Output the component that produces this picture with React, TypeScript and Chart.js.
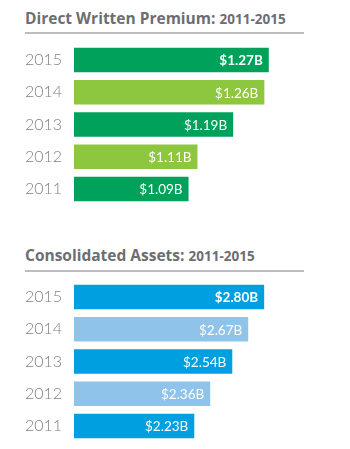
import React, { useEffect, useRef } from 'react';
import { Chart, registerables } from 'chart.js';

Chart.register(...registerables);

const years = ['2015', '2014', '2013', '2012', '2011'];
const premiumValues = [1.27, 1.26, 1.19, 1.11, 1.09];
const premiumLabels = ['$1.27B', '$1.26B', '$1.19B', '$1.11B', '$1.09B'];
const assetValues = [2.8, 2.67, 2.54, 2.36, 2.23];
const assetLabels = ['$2.80B', '$2.67B', '$2.54B', '$2.36B', '$2.23B'];

const premiumColors = ['#00a15a', '#8dc63f', '#00a15a', '#8dc63f', '#00a15a'];
const assetColors = ['#00a0e0', '#8fc3ea', '#00a0e0', '#8fc3ea', '#00a0e0'];

type PanelProps = {
  top: number;
  titleTop: number;
  ruleTop: number;
  title: string;
  range: string;
  values: number[];
  labels: string[];
  colors: string[];
  min: number;
  max: number;
};

const valueLabelPlugin = {
  id: 'valueLabels',
  afterDatasetsDraw(chart: any, _args: any, opts: any) {
    const ctx = chart.ctx;
    const meta = chart.getDatasetMeta(0);
    const labels: string[] = opts.labels || [];
    ctx.save();
    ctx.fillStyle = '#ffffff';
    ctx.textAlign = 'right';
    ctx.textBaseline = 'middle';
    meta.data.forEach((bar: any, i: number) => {
      ctx.font = (i === 0 ? '700 ' : '400 ') + '13.5px Lato, "Open Sans", sans-serif';
      ctx.fillText(labels[i], bar.x - 6, bar.y + 1);
    });
    ctx.restore();
  },
};

const TICK_FONT = 16;

function Panel(props: PanelProps) {
  const ref = useRef<HTMLCanvasElement | null>(null);
  useEffect(() => {
    if (!ref.current) return;
    const chart = new Chart(ref.current, {
      type: 'bar',
      data: {
        labels: years,
        datasets: [
          {
            data: props.values,
            backgroundColor: props.colors,
            borderWidth: 0,
            categoryPercentage: 1,
            barPercentage: 0.76,
          },
        ],
      },
      options: {
        indexAxis: 'y',
        animation: false,
        responsive: false,
        devicePixelRatio: 1,
        layout: { padding: 0 },
        plugins: {
          legend: { display: false },
          tooltip: { enabled: false },
          title: { display: false },
          valueLabels: { labels: props.labels },
        } as any,
        scales: {
          x: {
            display: false,
            min: props.min,
            max: props.max,
          },
          y: {
            afterFit: (scale: any) => {
              scale.width = 49;
            },
            grid: { display: false, drawTicks: false },
            border: { display: false },
            ticks: {
              crossAlign: 'far',
              padding: 0,
              color: '#808083',
              font: {
                family: 'Lato, "Open Sans", sans-serif',
                size: TICK_FONT,
                weight: '300' as any,
                lineHeight: 1,
              },
            },
          },
        },
      },
      plugins: [valueLabelPlugin],
    });
    return () => chart.destroy();
  }, []);

  return (
    <>
      <div
        style={{
          position: 'absolute',
          left: 25,
          top: props.titleTop,
          whiteSpace: 'nowrap',
          fontFamily: '"Open Sans", Roboto, sans-serif',
          fontWeight: 700,
          color: '#6d6e71',
          lineHeight: '16px',
        }}
      >
        <span style={{ fontSize: 15.5 }}>{props.title}</span>{' '}
        <span style={{ fontSize: 13.5 }}>{props.range}</span>
      </div>
      <div
        style={{
          position: 'absolute',
          left: 25,
          top: props.ruleTop,
          width: 279,
          height: 2,
          background: '#bcbdc0',
        }}
      />
      <canvas
        ref={ref}
        width={279}
        height={161 + TICK_FONT}
        style={{ position: 'absolute', left: 25, top: props.top - TICK_FONT / 2, width: 279, height: 161 + TICK_FONT }}
      />
    </>
  );
}

export default function App() {
  return (
    <div
      style={{
        position: 'absolute',
        left: 0,
        top: 0,
        width: 350,
        height: 449,
        background: '#ffffff',
        overflow: 'hidden',
      }}
    >
      <Panel
        top={44}
        titleTop={10}
        ruleTop={32}
        title="Direct Written Premium:"
        range="2011-2015"
        values={premiumValues}
        labels={premiumLabels}
        colors={premiumColors}
        min={0.833}
        max={1.349}
      />
      <Panel
        top={281}
        titleTop={247}
        ruleTop={270}
        title="Consolidated Assets:"
        range="2011-2015"
        values={assetValues}
        labels={assetLabels}
        colors={assetColors}
        min={1.249}
        max={3.125}
      />
    </div>
  );
}
